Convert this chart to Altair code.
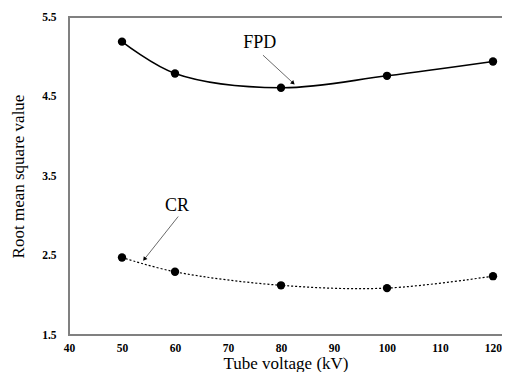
import altair as alt
import pandas as pd

kv = [50, 60, 80, 100, 120]
fpd = [5.19, 4.79, 4.61, 4.76, 4.94]
cr = [2.475, 2.295, 2.125, 2.09, 2.24]

x_ticks = [40, 50, 60, 70, 80, 90, 100, 110, 120]
y_ticks = [1.5, 2.5, 3.5, 4.5, 5.5]

labels = ["FPD", "CR"]
label_x = [76.0, 60.4]
label_y = [5.175, 3.125]
arrow_x1 = [76.6, 60.6]
arrow_y1 = [5.02, 2.99]
arrow_x2 = [82.2, 54.3]
arrow_y2 = [4.675, 2.46]
arrow_angle = [133, 218]

FONT = "Liberation Serif"
W, H = 433, 318

df_f = pd.DataFrame({"kv": kv, "v": fpd})
df_c = pd.DataFrame({"kv": kv, "v": cr})
df_lab = pd.DataFrame({"t": labels, "x": label_x, "y": label_y})
df_arr = pd.DataFrame({"x": arrow_x1, "y": arrow_y1, "x2": arrow_x2, "y2": arrow_y2, "a": arrow_angle})

xs = alt.Scale(domain=[40, 121.7], nice=False, zero=False)
ys = alt.Scale(domain=[1.5, 5.5], nice=False, zero=False)

xax = alt.Axis(values=x_ticks, grid=False, ticks=False, domain=False,
               labelFont=FONT, labelFontWeight="bold", labelFontSize=11.5, labelColor="black",
               labelPadding=7, title="Tube voltage (kV)", titleFont=FONT, titleFontSize=17,
               titleFontWeight="normal", titleColor="black", titlePadding=2, labelFlush=False)
yax = alt.Axis(values=y_ticks, grid=False, ticks=False, domain=False,
               labelFont=FONT, labelFontWeight="bold", labelFontSize=11.5, labelColor="black",
               labelPadding=13, title="Root mean square value", titleFont=FONT, titleFontSize=17,
               titleFontWeight="normal", titleColor="black", titlePadding=14, format=".1f",
               labelFlush=False)

# frame lines drawn as thin rects (top, bottom, left)
top_r = alt.Chart(pd.DataFrame({"k": [1]})).mark_rect(color="#808080").encode(
    x=alt.value(0), x2=alt.value(W), y=alt.value(-1), y2=alt.value(1))
bot_r = alt.Chart(pd.DataFrame({"k": [1]})).mark_rect(color="#808080").encode(
    x=alt.value(0), x2=alt.value(W), y=alt.value(H - 1), y2=alt.value(H + 1))
left_r = alt.Chart(pd.DataFrame({"k": [1]})).mark_rect(color="#808080").encode(
    x=alt.value(-1), x2=alt.value(1), y=alt.value(-1), y2=alt.value(H + 1))

base_f = alt.Chart(df_f)
line_f = base_f.mark_line(color="black", strokeWidth=1.6, interpolate="catmull-rom").encode(
    x=alt.X("kv:Q", scale=xs, axis=xax), y=alt.Y("v:Q", scale=ys, axis=yax))
pts_f = base_f.mark_point(filled=True, color="black", size=70, opacity=1).encode(
    x=alt.X("kv:Q", scale=xs), y=alt.Y("v:Q", scale=ys))

base_c = alt.Chart(df_c)
line_c = base_c.mark_line(color="black", strokeWidth=1.2, strokeDash=[2, 2], interpolate="catmull-rom").encode(
    x=alt.X("kv:Q", scale=xs), y=alt.Y("v:Q", scale=ys))
pts_c = base_c.mark_point(filled=True, color="black", size=70, opacity=1).encode(
    x=alt.X("kv:Q", scale=xs), y=alt.Y("v:Q", scale=ys))

arrows = alt.Chart(df_arr).mark_rule(color="#444444", strokeWidth=0.8).encode(
    x=alt.X("x:Q", scale=xs), y=alt.Y("y:Q", scale=ys), x2="x2:Q", y2="y2:Q")
heads = alt.Chart(df_arr).mark_point(shape="triangle", filled=True, color="black", size=22, opacity=1).encode(
    x=alt.X("x2:Q", scale=xs), y=alt.Y("y2:Q", scale=ys), angle=alt.Angle("a:Q", scale=None))

texts = alt.Chart(df_lab).mark_text(font=FONT, fontSize=18, color="black").encode(
    x=alt.X("x:Q", scale=xs), y=alt.Y("y:Q", scale=ys), text="t:N")

chart = alt.layer(line_f, line_c, pts_f, pts_c, arrows, heads, texts, top_r, bot_r, left_r).properties(
    width=W, height=H,
    autosize=alt.AutoSizeParams(type="none"),
    padding={"left": 61, "top": 9, "right": 0, "bottom": 37},
    background="white",
).configure_view(stroke=None)

chart.save("out.html", embed_options={"renderer": "svg", "actions": False})
